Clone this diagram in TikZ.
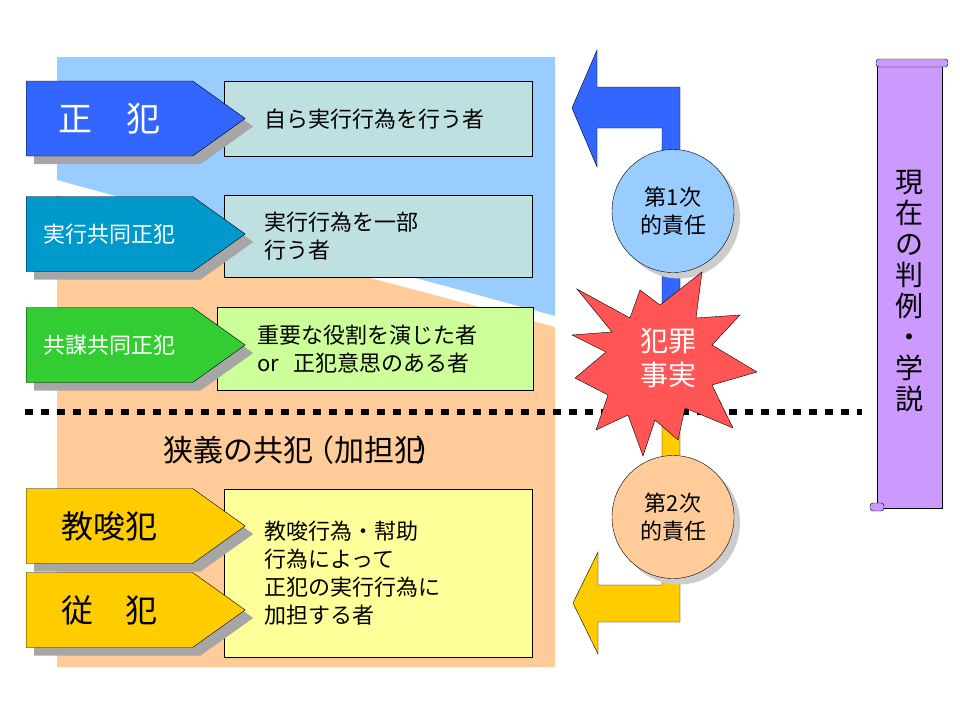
\documentclass[tikz,border=0pt]{standalone}
\usepackage{fontspec}
\setmainfont{Noto Sans CJK JP}
\usetikzlibrary{shapes.symbols,shapes.geometric,shadows}
\definecolor{bgblue}{HTML}{99CCFF}
\definecolor{bgpeach}{HTML}{FFCC99}
\definecolor{boxteal}{HTML}{BFE0E0}
\definecolor{boxgreen}{HTML}{CCFF99}
\definecolor{boxyellow}{HTML}{FFFF99}
\definecolor{sigblue}{HTML}{3366FF}
\definecolor{sigteal}{HTML}{0099CC}
\definecolor{siggreen}{HTML}{33CC33}
\definecolor{sigyellow}{HTML}{FFCC00}
\definecolor{starred}{HTML}{FF5555}
\definecolor{scrollpurple}{HTML}{CC99FF}
\tikzset{
	sig/.style={signal, signal to=east, signal pointer angle=71, draw, thin, anchor=west,
		minimum width=219pt, minimum height=75pt, inner sep=0pt,
		drop shadow={shadow xshift=8pt, shadow yshift=-8pt, fill=black!35, opacity=1}},
	desc/.style={draw, thin, anchor=north west, align=left, inner xsep=40pt,
		font=\fontsize{22}{28}\selectfont},
	resp/.style={ellipse, draw, thin, minimum width=122pt, minimum height=123pt, align=center,
		font=\fontsize{22}{28}\selectfont,
		drop shadow={shadow xshift=6pt, shadow yshift=-6pt, fill=black!20, opacity=1}}
}
\begin{document}
\begin{tikzpicture}[x=1pt, y=-1pt]
	\useasboundingbox (0,0) rectangle (960,720);
	% backgrounds
	\fill [bgpeach] (57,195) -- (555,327) -- (555,667) -- (57,667) -- cycle;
	\fill [bgblue] (57,57) -- (555,57) -- (555,316) -- (57,180) -- cycle;
	% description boxes
	\node [desc, fill=boxteal, minimum width=308pt, minimum height=75pt, text width=228pt] (d1) at (224,81) {自ら実行行為を行う者};
	\node [desc, fill=boxteal, minimum width=308pt, minimum height=82pt, text width=228pt] (d2) at (224,195) {実行行為を一部\\行う者};
	\node [desc, fill=boxgreen, minimum width=316pt, minimum height=83pt, text width=236pt] (d3) at (217,307) {重要な役割を演じた者\\or\ \ 正犯意思のある者};
	\node [desc, fill=boxyellow, minimum width=308pt, minimum height=168pt, text width=228pt] (d4) at (224,489) {教唆行為・幇助\\行為によって\\正犯の実行行為に\\加担する者};
	% categories
	\node [sig, fill=sigblue, text=white, font=\fontsize{34}{34}\selectfont] (s1) at (26,118.5) {正\hspace{1em}犯\hspace{1.2em}};
	\node [sig, fill=sigteal, text=white, font=\fontsize{22}{22}\selectfont] (s2) at (26,234) {実行共同正犯\hspace{1em}};
	\node [sig, fill=siggreen, text=white, font=\fontsize{22}{22}\selectfont] (s3) at (26,345) {共謀共同正犯\hspace{1em}};
	\node [sig, fill=sigyellow, font=\fontsize{32}{32}\selectfont] (s4) at (26,526) {教唆犯\hspace{1em}};
	\node [sig, fill=sigyellow, font=\fontsize{32}{32}\selectfont] (s5) at (26,610) {従\hspace{1em}犯\hspace{1.2em}};
	% divider and title
	\draw [line width=6pt, dash pattern=on 8pt off 8pt] (25,412) -- (862,412);
	\node [font=\fontsize{30}{30}\selectfont] (narrow) at (304,450) {狭義の共犯\kern-0.3em（加担犯\kern-0.3em）};
	% responsibility arrows
	\draw [thin, fill=sigblue] (680,330) -- (680,87) -- (597,87) -- (597,50) -- (572,108)
		-- (597,167) -- (597,128) -- (662,128) -- (662,330) -- cycle;
	\draw [thin, fill=sigyellow] (680,395) -- (680,622) -- (598,622) -- (598,654) -- (573,603)
		-- (598,552) -- (598,585) -- (662,585) -- (662,395) -- cycle;
	\node [resp, fill=bgblue] (first) at (673,211) {第1次\\的責任};
	\node [resp, fill=bgpeach] (second) at (673,517) {第2次\\的責任};
	\draw [thin, fill=starred] (577,289) -- (630,318) -- (640,290) -- (660,305) -- (702,272)
		-- (696,318) -- (740,315) -- (712,345) -- (757,372) -- (712,385) -- (733,428)
		-- (685,408) -- (678,440) -- (655,420) -- (643,456) -- (628,415) -- (596,430)
		-- (608,395) -- (575,378) -- (606,352) -- (572,335) -- (612,332) -- cycle;
	\node [text=white, align=center, font=\fontsize{28}{34}\selectfont] (crime) at (668,358) {犯罪\\事実};
	% scroll
	\draw [thin, fill=scrollpurple] (877,64) rectangle (942,508);
	\draw [thin, fill=scrollpurple, rounded corners=3pt] (876,59) rectangle (948,67);
	\draw [thin, fill=scrollpurple, rounded corners=3pt] (870,503) rectangle (884,511);
	\node [align=center, font=\fontsize{28}{31}\selectfont] (ruling) at (909,291) {現\\在\\の\\判\\例\\・\\学\\説};
\end{tikzpicture}
\end{document}
